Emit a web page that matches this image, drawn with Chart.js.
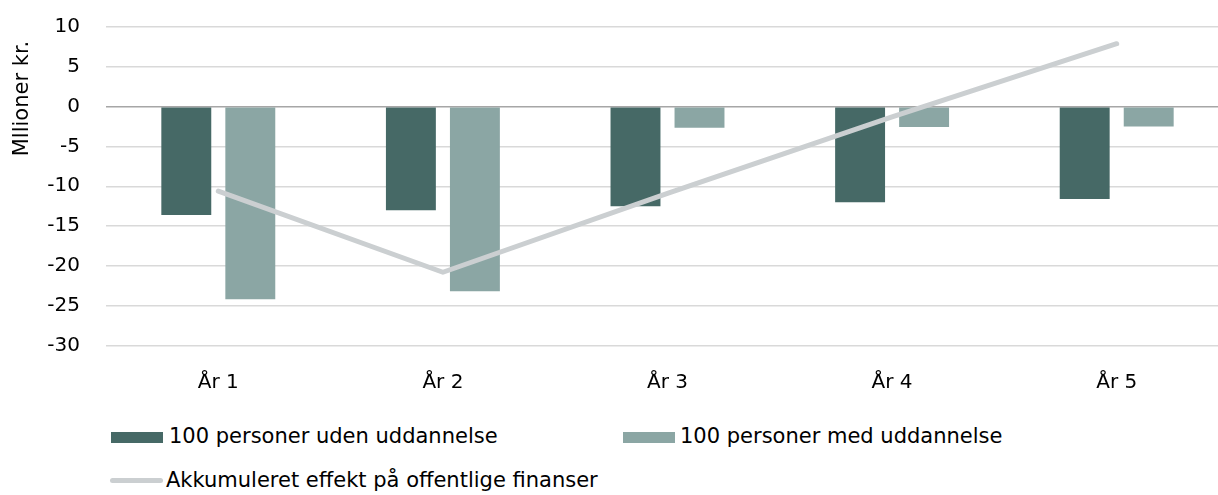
<!DOCTYPE html>
<html>
<head>
<meta charset="utf-8">
<script src="https://cdn.jsdelivr.net/npm/chart.js@4.4.1/dist/chart.umd.min.js"></script>
<style>
  body { margin:0; background:#fff; overflow:hidden; width:1218px; height:495px; position:relative; font-family:"DejaVu Sans", sans-serif; color:#000; }
  #wrap { position:absolute; left:0; top:0; width:1240px; height:400px; }
  .lg { position:absolute; font-size:21px; line-height:24px; white-space:nowrap; }
  .sw { position:absolute; }
</style>
</head>
<body>
<div id="wrap"><canvas id="chart"></canvas></div>
<div id="legend"></div>
<script>
const years = ['År 1', 'År 2', 'År 3', 'År 4', 'År 5'];
const udenUddannelse = [-13.6, -13.0, -12.5, -12.0, -11.6];
const medUddannelse = [-24.2, -23.2, -2.65, -2.55, -2.5];
const akkumuleret = [-10.6, -20.8, -10.9, -1.3, 7.9];
const seriesNames = ['100 personer uden uddannelse', '100 personer med uddannelse', 'Akkumuleret effekt på offentlige finanser'];
const axisTitle = 'Mllioner kr.';

const darkCol = '#466966';
const lightCol = '#8ba6a4';
const lineCol = '#cbcfd1';
const font = '"DejaVu Sans", sans-serif';

// y-axis title sits near the top like in the Excel original
const axisTitlePlugin = {
  id: 'axisTitle',
  afterDraw(c) {
    const ctx = c.ctx;
    ctx.save();
    ctx.translate(23, 98.5);
    ctx.rotate(-Math.PI / 2);
    ctx.font = '21px ' + font;
    ctx.fillStyle = '#000';
    ctx.textAlign = 'center';
    ctx.textBaseline = 'middle';
    ctx.fillText(axisTitle, 0, 0);
    ctx.restore();
  }
};

const chart = new Chart(document.getElementById('chart'), {
  type: 'bar',
  data: {
    labels: years,
    datasets: [
      { label: seriesNames[0], data: udenUddannelse, backgroundColor: darkCol, order: 1,
        categoryPercentage: 0.57, barPercentage: 0.78 },
      { label: seriesNames[1], data: medUddannelse, backgroundColor: lightCol, order: 1,
        categoryPercentage: 0.57, barPercentage: 0.78 },
      { type: 'line', label: seriesNames[2], data: akkumuleret, borderColor: lineCol, backgroundColor: lineCol,
        borderWidth: 5, borderCapStyle: 'round', borderJoinStyle: 'round', pointRadius: 0, tension: 0, order: 0 }
    ]
  },
  options: {
    responsive: true,
    maintainAspectRatio: false,
    animation: false,
    layout: { padding: { left: 0, top: 27, right: 11, bottom: 0 } },
    plugins: { legend: { display: false }, tooltip: { enabled: false } },
    scales: {
      x: {
        grid: { display: false },
        border: { display: false },
        ticks: { color: '#000', font: { family: font, size: 20 }, padding: 17 },
        afterFit: s => { s.height = 54.5; }
      },
      y: {
        min: -30, max: 10,
        border: { display: false },
        grid: {
          drawTicks: false,
          lineWidth: 1.5,
          color: ctx => ctx.tick && ctx.tick.value === 0 ? '#a6a6a6' : '#d9d9d9'
        },
        ticks: { stepSize: 5, color: '#000', font: { family: font, size: 20 }, padding: 26 },
        afterFit: s => { s.width = 106; s.paddingTop = 0; s.paddingBottom = 0; }
      }
    }
  },
  plugins: [axisTitlePlugin]
});

// legend laid out like the original (two rows)
const legendItems = [
  { kind: 'box', color: darkCol, x: 111, y: 437.7, text: seriesNames[0], tx: 169, base: 443.5 },
  { kind: 'box', color: lightCol, x: 623, y: 437.7, text: seriesNames[1], tx: 680, base: 443.5 },
  { kind: 'line', color: lineCol, x: 110, y: 480, text: seriesNames[2], tx: 166, base: 487 }
];
const legend = document.getElementById('legend');
legendItems.forEach(it => {
  const sw = document.createElement('div');
  sw.className = 'sw';
  if (it.kind === 'box') {
    sw.style.cssText = `left:${it.x}px;top:${it.y - 5.5}px;width:52px;height:11px;background:${it.color};`;
  } else {
    sw.style.cssText = `left:${it.x}px;top:${it.y - 2.5}px;width:53px;height:5px;border-radius:2.5px;background:${it.color};`;
  }
  legend.appendChild(sw);
  const t = document.createElement('div');
  t.className = 'lg';
  t.style.left = it.tx + 'px';
  t.style.top = (it.base - 19.3) + 'px';
  t.textContent = it.text;
  legend.appendChild(t);
});
</script>
</body>
</html>
